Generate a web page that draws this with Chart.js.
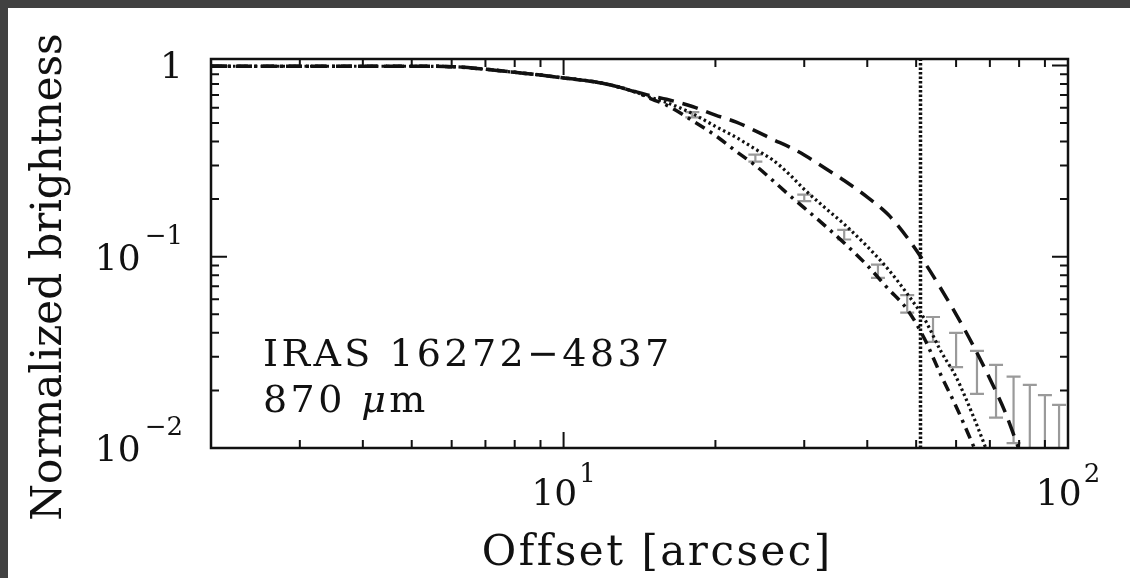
<!DOCTYPE html>
<html>
<head>
<meta charset="utf-8">
<script src="https://cdn.jsdelivr.net/npm/chart.js@4.4.1/dist/chart.umd.min.js"></script>
<style>
  html, body { margin: 0; padding: 0; background: #414141; width: 1130px; height: 578px; overflow: hidden; }
  #frame { position: absolute; left: 8px; top: 8px; width: 1122px; height: 570px; background: #fff; }
  canvas { display: block; }
</style>
</head>
<body>
<div id="frame"><canvas id="profile" width="1122" height="570"></canvas></div>
<script>
// model profiles, offset in arcsec
var offsets      = [2, 3, 4, 5, 6, 7, 8, 9, 10, 11, 12, 13, 14, 15, 16, 18, 20, 22, 24, 26, 28, 30, 33, 36, 40, 44, 48, 52, 56, 60, 65, 70, 75, 80];
var modelDashed  = [0.99, 0.99, 0.99, 0.99, 0.985, 0.955, 0.92, 0.89, 0.86, 0.835, 0.805, 0.765, 0.725, 0.69, 0.665, 0.61, 0.55, 0.505, 0.455, 0.41, 0.375, 0.34, 0.29, 0.25, 0.205, 0.166, 0.126, 0.093, 0.068, 0.05, 0.034, 0.023, 0.0155, 0.0098];
var modelDotted  = [0.99, 0.99, 0.99, 0.99, 0.985, 0.955, 0.92, 0.89, 0.86, 0.835, 0.805, 0.765, 0.72, 0.675, 0.64, 0.56, 0.48, 0.42, 0.365, 0.32, 0.27, 0.225, 0.18, 0.148, 0.113, 0.086, 0.064, 0.047, 0.032, 0.0235, 0.0145, 0.0088, null, null];
var modelDashDot = [0.99, 0.99, 0.99, 0.99, 0.985, 0.955, 0.92, 0.89, 0.86, 0.835, 0.805, 0.765, 0.72, 0.665, 0.62, 0.515, 0.43, 0.355, 0.3, 0.25, 0.21, 0.18, 0.145, 0.118, 0.09, 0.068, 0.053, 0.037, 0.024, 0.0165, 0.0102, 0.0065, null, null];

// observed profile (error bars)
var obsOffset = [18, 24, 30, 36, 42, 48, 54, 60, 66, 72, 78, 84, 90, 96];
var obsLow    = [0.535, 0.314, 0.195, 0.123, 0.0775, 0.051, 0.0359, 0.0265, 0.0192, 0.0144, 0.0106, 0.008, 0.008, 0.008];
var obsHigh   = [0.57, 0.342, 0.211, 0.138, 0.0909, 0.063, 0.0484, 0.040, 0.0322, 0.0272, 0.0236, 0.0214, 0.0189, 0.0168];

var beamEdge = 51;

var xMajor = [10, 100];
var xTickBase = ["10", "10"];
var xTickExp = ["1", "2"];
var yMajor = [1, 0.1, 0.01];
var yTickBase = ["1", "10", "10"];
var yTickExp = ["", "\u22121", "\u22122"];

var serif = "'DejaVu Serif', serif";

function pts(ys) {
    var out = [];
    for (var i = 0; i < offsets.length; i++) {
        if (ys[i] != null) out.push({ x: offsets[i], y: ys[i] });
    }
    return out;
}

function minorTicks(lo, hi) {
    var t = [];
    for (var d = lo; d < hi; d *= 10) {
        for (var k = 2; k <= 9; k++) t.push(k * d);
    }
    return t;
}

// draws text one glyph at a time with extra spacing, returns the end x
function spaced(ctx, str, x, y, gap) {
    for (var i = 0; i < str.length; i++) {
        ctx.fillText(str[i], x, y);
        x += ctx.measureText(str[i]).width + gap;
    }
    return x;
}

function spacedWidth(ctx, str, gap) {
    var w = 0;
    for (var i = 0; i < str.length; i++) w += ctx.measureText(str[i]).width;
    return w + gap * (str.length - 1);
}

var decorations = {
    id: "decorations",
    beforeDatasetsDraw: function (chart) {
        var ctx = chart.ctx, xs = chart.scales.x, ys = chart.scales.y, a = chart.chartArea;
        ctx.save();
        ctx.beginPath();
        ctx.rect(a.left, a.top, a.width, a.height);
        ctx.clip();
        ctx.strokeStyle = "#9a9a9a";
        ctx.lineWidth = 2.2;
        for (var i = 0; i < obsOffset.length; i++) {
            var px = xs.getPixelForValue(obsOffset[i]);
            var top = ys.getPixelForValue(obsHigh[i]);
            var bot = ys.getPixelForValue(obsLow[i]);
            ctx.beginPath();
            ctx.moveTo(px, top); ctx.lineTo(px, bot);
            ctx.moveTo(px - 7, top); ctx.lineTo(px + 7, top);
            ctx.moveTo(px - 7, bot); ctx.lineTo(px + 7, bot);
            ctx.stroke();
        }
        ctx.restore();
    },
    afterDraw: function (chart) {
        var ctx = chart.ctx, xs = chart.scales.x, ys = chart.scales.y, a = chart.chartArea;
        var i, p;
        ctx.save();
        ctx.strokeStyle = "#111";
        ctx.fillStyle = "#111";

        // ticks on all four sides, pointing inwards
        ctx.lineWidth = 2;
        ctx.beginPath();
        var xm = minorTicks(1, 100);
        for (i = 0; i < xm.length; i++) {
            if (xm[i] < 2) continue;
            p = xs.getPixelForValue(xm[i]);
            ctx.moveTo(p, a.bottom); ctx.lineTo(p, a.bottom - 8);
            ctx.moveTo(p, a.top); ctx.lineTo(p, a.top + 8);
        }
        for (i = 0; i < xMajor.length; i++) {
            p = xs.getPixelForValue(xMajor[i]);
            ctx.moveTo(p, a.bottom); ctx.lineTo(p, a.bottom - 16);
            ctx.moveTo(p, a.top); ctx.lineTo(p, a.top + 16);
        }
        var ym = minorTicks(0.01, 1);
        for (i = 0; i < ym.length; i++) {
            p = ys.getPixelForValue(ym[i]);
            ctx.moveTo(a.left, p); ctx.lineTo(a.left + 8, p);
            ctx.moveTo(a.right, p); ctx.lineTo(a.right - 8, p);
        }
        for (i = 0; i < yMajor.length; i++) {
            p = ys.getPixelForValue(yMajor[i]);
            ctx.moveTo(a.left, p); ctx.lineTo(a.left + 16, p);
            ctx.moveTo(a.right, p); ctx.lineTo(a.right - 16, p);
        }
        ctx.stroke();

        // frame
        ctx.lineWidth = 2.5;
        ctx.strokeRect(a.left, a.top, a.width, a.height);

        // x tick labels
        ctx.textBaseline = "alphabetic";
        ctx.textAlign = "left";
        for (i = 0; i < xMajor.length; i++) {
            p = xs.getPixelForValue(xMajor[i]);
            ctx.font = "36px " + serif;
            var wb = ctx.measureText(xTickBase[i]).width;
            ctx.font = "26px " + serif;
            var we = ctx.measureText(xTickExp[i]).width;
            var x0 = p - (wb + we + 2) / 2;
            ctx.font = "36px " + serif;
            ctx.fillText(xTickBase[i], x0, a.bottom + 57);
            ctx.font = "26px " + serif;
            ctx.fillText(xTickExp[i], x0 + wb + 2, a.bottom + 34);
        }

        // y tick labels
        var right = a.left - 28;
        for (i = 0; i < yMajor.length; i++) {
            p = ys.getPixelForValue(yMajor[i]);
            ctx.font = "26px " + serif;
            var w2 = yTickExp[i] ? ctx.measureText(yTickExp[i]).width + 4 : 0;
            ctx.textAlign = "right";
            if (yTickExp[i]) ctx.fillText(yTickExp[i], right, p - 13);
            ctx.font = "36px " + serif;
            ctx.fillText(yTickBase[i], right - w2, p + 13);
        }

        // axis titles
        ctx.textAlign = "left";
        ctx.font = "42px " + serif;
        var xt = "Offset [arcsec]";
        spaced(ctx, xt, 648 - spacedWidth(ctx, xt, 2.5) / 2, a.bottom + 117, 2.5);
        ctx.save();
        ctx.translate(53, 269);
        ctx.rotate(-Math.PI / 2);
        ctx.textAlign = "center";
        ctx.fillText("Normalized brightness", 0, 0);
        ctx.restore();

        // source label
        ctx.font = "38px " + serif;
        spaced(ctx, "IRAS 16272\u22124837", a.left + 52, a.top + 307, 3.4);
        var lx = spaced(ctx, "870 ", a.left + 52, a.top + 353, 3.4);
        ctx.font = "italic 38px " + serif;
        lx = spaced(ctx, "\u03bc", lx, a.top + 353, 3.4);
        ctx.font = "38px " + serif;
        spaced(ctx, "m", lx, a.top + 353, 3.4);
        ctx.restore();
    }
};

var chart = new Chart(document.getElementById("profile").getContext("2d"), {
    type: "line",
    data: {
        datasets: [
            {
                data: pts(modelDashed),
                borderColor: "#111",
                borderWidth: 3.5,
                borderDash: [16, 9],
                pointRadius: 0,
                cubicInterpolationMode: "monotone",
                clip: 0
            },
            {
                data: pts(modelDotted),
                borderColor: "#111",
                borderWidth: 3.2,
                borderDash: [2.5, 3],
                pointRadius: 0,
                cubicInterpolationMode: "monotone",
                clip: 0
            },
            {
                data: pts(modelDashDot),
                borderColor: "#111",
                borderWidth: 3.5,
                borderDash: [11, 6, 3, 6],
                pointRadius: 0,
                cubicInterpolationMode: "monotone",
                clip: 0
            },
            {
                data: [{ x: beamEdge, y: 0.01 }, { x: beamEdge, y: 1.08 }],
                borderColor: "#111",
                borderWidth: 3.5,
                borderDash: [2.5, 2],
                pointRadius: 0,
                clip: 0
            }
        ]
    },
    options: {
        responsive: false,
        animation: false,
        devicePixelRatio: 1,
        layout: {
            padding: { left: 203, top: 51, right: 62, bottom: 130 }
        },
        plugins: {
            legend: { display: false },
            tooltip: { enabled: false }
        },
        scales: {
            x: { type: "logarithmic", min: 2, max: 100, display: false },
            y: { type: "logarithmic", min: 0.01, max: 1.08, display: false }
        }
    },
    plugins: [decorations]
});
</script>
</body>
</html>
